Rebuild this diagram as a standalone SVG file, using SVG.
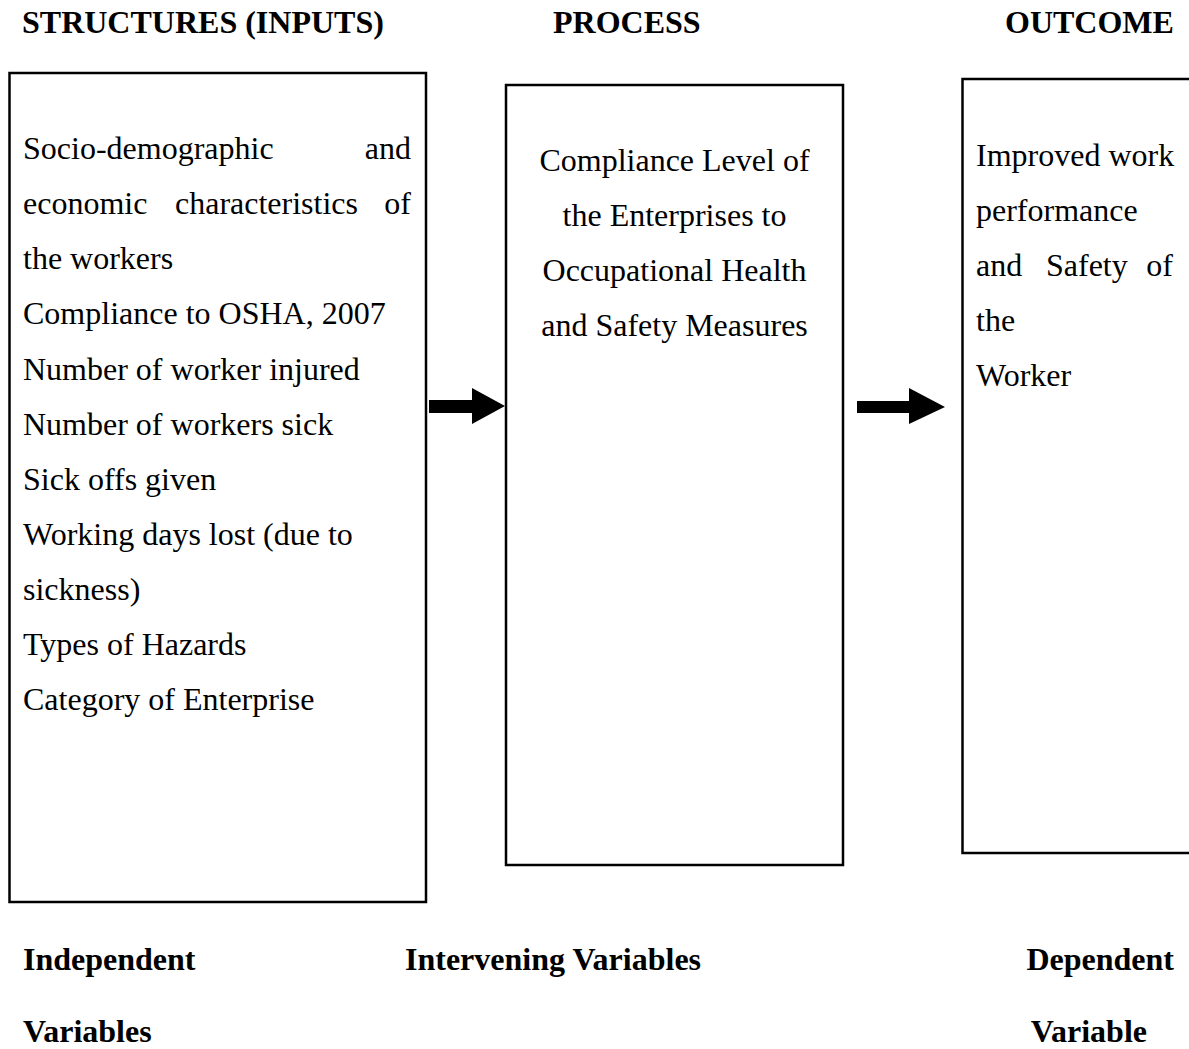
<svg xmlns="http://www.w3.org/2000/svg" width="1189" height="1049" viewBox="0 0 1189 1049">
<style>
.t{font-family:"Liberation Serif","Times New Roman",serif;font-size:32px;fill:#000}
.b{font-family:"Liberation Serif","Times New Roman",serif;font-size:32px;font-weight:bold;fill:#000}
.box{fill:#fff;stroke:#000;stroke-width:2.5}
.arr{fill:#000}
</style>
<rect width="1189" height="1049" fill="#fff"/>
<g id="headers">
<text class="b" x="22" y="33">STRUCTURES (INPUTS)</text>
<text class="b" x="553" y="33">PROCESS</text>
<text class="b" x="1005" y="33">OUTCOME</text>
</g>
<g id="node-inputs">
<rect class="box" x="9.5" y="73" width="416.5" height="829"/>
<text class="t" x="23" y="159">Socio-demographic</text>
<text class="t" x="411" y="159" text-anchor="end">and</text>
<text class="t" x="23" y="214">economic</text>
<text class="t" x="175" y="214">characteristics</text>
<text class="t" x="411" y="214" text-anchor="end">of</text>
<text class="t" x="23" y="269">the workers</text>
<text class="t" x="23" y="324">Compliance to OSHA, 2007</text>
<text class="t" x="23" y="380">Number of worker injured</text>
<text class="t" x="23" y="435">Number of workers sick</text>
<text class="t" x="23" y="490">Sick offs given</text>
<text class="t" x="23" y="545">Working days lost (due to</text>
<text class="t" x="23" y="600">sickness)</text>
<text class="t" x="23" y="655">Types of Hazards</text>
<text class="t" x="23" y="710">Category of Enterprise</text>
</g>
<g id="node-process">
<rect class="box" x="506" y="85" width="337" height="780"/>
<text class="t" x="674.5" y="171" text-anchor="middle">Compliance Level of</text>
<text class="t" x="674.5" y="226" text-anchor="middle">the Enterprises to</text>
<text class="t" x="674.5" y="281" text-anchor="middle">Occupational Health</text>
<text class="t" x="674.5" y="336" text-anchor="middle">and Safety Measures</text>
</g>
<g id="node-outcome">
<rect class="box" x="962.5" y="79" width="240" height="774"/>
<text class="t" x="976" y="166">Improved work</text>
<text class="t" x="976" y="221">performance</text>
<text class="t" x="976" y="276">and</text>
<text class="t" x="1046" y="276">Safety</text>
<text class="t" x="1173" y="276" text-anchor="end">of</text>
<text class="t" x="976" y="331">the</text>
<text class="t" x="976" y="386">Worker</text>
</g>
<g id="connectors">
<polygon class="arr" points="429,400 472,400 472,388 505,406 472,424 472,413 429,413"/>
<polygon class="arr" points="857,401 909,401 909,388 945,407 909,424 909,413 857,413"/>
</g>
<g id="labels">
<text class="b" x="23" y="970">Independent</text>
<text class="b" x="23" y="1042">Variables</text>
<text class="b" x="405" y="970">Intervening Variables</text>
<text class="b" x="1174" y="970" text-anchor="end">Dependent</text>
<text class="b" x="1147" y="1042" text-anchor="end">Variable</text>
</g>
</svg>
